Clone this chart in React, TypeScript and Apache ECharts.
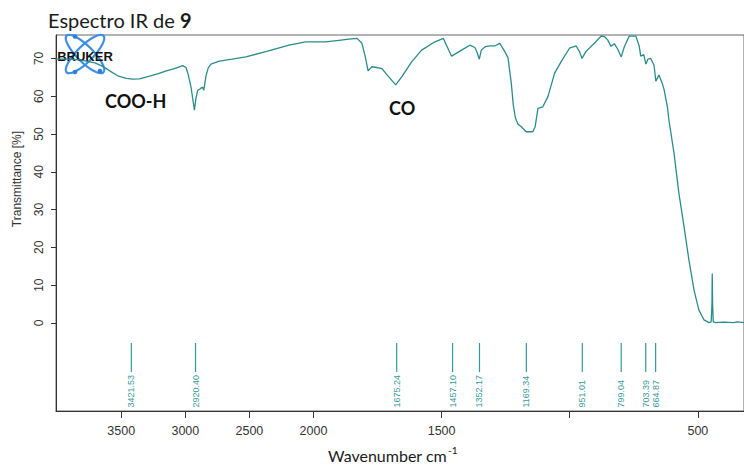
import React, { useEffect, useRef } from "react";
import * as echarts from "echarts";

// Spectrum (wavenumber cm-1, transmittance %)
const wavenumbers = [
  4012, 4000, 3926, 3823, 3706, 3644, 3590, 3528, 3460, 3411, 3357, 3279, 3217, 3149, 3085, 3020,
  2994, 2976, 2955, 2941, 2929, 2917, 2904, 2883, 2865, 2856, 2838, 2821, 2800, 2735, 2634, 2528,
  2372, 2191, 2061, 1953, 1901, 1862, 1830, 1811, 1798, 1787, 1772, 1753, 1733, 1707, 1679, 1655,
  1617, 1578, 1526, 1493, 1481, 1461, 1422, 1390, 1370, 1361, 1353, 1345, 1330, 1312, 1293, 1273,
  1255, 1241, 1228, 1220, 1212, 1202, 1189, 1170, 1144, 1135, 1124, 1105, 1085, 1059, 1034, 1001,
  975, 962, 952, 937, 904, 878, 865, 852, 839, 826, 813, 799, 787, 768, 742, 729, 723, 711, 703,
  695, 684, 671, 664, 652, 639, 632, 619, 613, 593, 574, 554, 535, 515, 496, 476, 457, 448, 445,
  444, 442.5, 440, 431, 400, 360, 347, 320,
];
const transmittance = [
  69.8, 69.8, 69.8, 69.6, 68.8, 67.9, 66.7, 65.4, 64.7, 64.5, 64.6, 65.3, 65.9, 66.7, 67.3, 68.1,
  67.6, 65.5, 62.3, 59.0, 56.3, 59.5, 61.5, 62.0, 62.4, 61.6, 65.5, 67.5, 68.5, 69.3, 69.8, 70.4,
  71.8, 73.5, 74.4, 74.4, 74.8, 75.1, 75.3, 74.0, 70.5, 66.7, 67.8, 67.6, 67.3, 65.2, 63.0, 65.2,
  69.1, 72.2, 74.4, 75.3, 73.5, 70.6, 72.2, 73.5, 72.9, 71.5, 69.8, 72.2, 73.1, 73.3, 73.3, 74.0,
  72.0, 70.2, 63.4, 57.5, 54.3, 52.6, 51.9, 50.6, 50.6, 51.9, 56.8, 57.2, 59.9, 66.1, 69.1, 72.7,
  73.3, 71.8, 70.0, 71.8, 74.0, 75.9, 75.8, 74.9, 73.2, 73.9, 72.5, 70.4, 73.1, 75.9, 75.9, 73.3,
  70.6, 71.0, 68.5, 69.8, 70.0, 68.2, 64.0, 65.6, 63.4, 61.8, 57.2, 53.7, 44.9, 34.3, 25.5, 16.7,
  8.7, 3.4, 0.8, 0.1, 0.3, 5.0, 13.1, 5.0, 0.3, 0.1, 0.2, 0.1, 0.3, 0.1,
];

const peakWavenumbers = [3421.53, 2920.4, 1675.24, 1457.1, 1352.17, 1169.34, 951.01, 799.04, 703.39, 664.87];

const xTickValues = [3500, 3000, 2500, 2000, 1500, 1000, 500];
const xLabelValues = [3500, 3000, 2500, 2000, 1500, 500];
const yTickValues = [0, 10, 20, 30, 40, 50, 60, 70];

// Axis has half scale above 2000 cm-1
const toAxis = (w: number) => (w > 2000 ? 2000 + (w - 2000) / 2 : w);
const fromAxis = (t: number) => (t > 2000 ? 2000 + (t - 2000) * 2 : t);

const TEAL = "#2a8c8c";
const PEAK = "#379a9a";

export default function App() {
  const ref = useRef<HTMLDivElement>(null);
  useEffect(() => {
    if (!ref.current) return;
    const chart = echarts.init(ref.current, null, { renderer: "svg" });
    const lineData = wavenumbers.map((w, i) => [toAxis(w), transmittance[i]]);
    const peakData = peakWavenumbers.map((w) => [toAxis(w), 0, w]);
    chart.setOption({
      animation: false,
      backgroundColor: "#ffffff",
      grid: {
        left: 56,
        right: -3,
        top: 35,
        bottom: 54,
        show: true,
        borderColor: "#666",
        borderWidth: 1,
        containLabel: false,
      },
      xAxis: {
        type: "value",
        inverse: true,
        min: 320,
        max: 3004.7,
        splitLine: { show: false },
        axisLine: { show: true, onZero: false, lineStyle: { color: "#333", width: 1 } },
        axisTick: {
          show: true,
          length: 7,
          customValues: xTickValues.map(toAxis),
          lineStyle: { color: "#333" },
        },
        axisLabel: {
          customValues: xLabelValues.map(toAxis),
          formatter: (t: number) => String(Math.round(fromAxis(t))),
          fontFamily: "Liberation Sans",
          fontSize: 12.5,
          color: "#333",
          margin: 13,
        },
      },
      yAxis: {
        type: "value",
        min: -23.3,
        max: 76.2,
        splitLine: { show: false },
        axisLine: { show: true, onZero: false, lineStyle: { color: "#333", width: 1 } },
        axisTick: { show: true, length: 5, customValues: yTickValues, lineStyle: { color: "#333" } },
        axisLabel: {
          customValues: yTickValues,
          rotate: 90,
          fontFamily: "Liberation Sans",
          fontSize: 12,
          color: "#333",
          margin: 11,
        },
      },
      series: [
        {
          type: "line",
          data: lineData,
          showSymbol: false,
          symbol: "none",
          lineStyle: { color: TEAL, width: 1.3 },
          itemStyle: { color: TEAL },
          z: 3,
        },
        {
          type: "custom",
          data: peakData,
          clip: false,
          renderItem: (params: any, api: any) => {
            const t = api.value(0);
            const w = api.value(2);
            const p1 = api.coord([t, -5.3]);
            const p2 = api.coord([t, -13]);
            const p3 = api.coord([t, -22.4]);
            return {
              type: "group",
              children: [
                {
                  type: "line",
                  shape: { x1: p1[0], y1: p1[1], x2: p2[0], y2: p2[1] },
                  style: { stroke: PEAK, lineWidth: 1.2 },
                },
                {
                  type: "text",
                  x: p3[0],
                  y: p3[1],
                  rotation: Math.PI / 2,
                  style: {
                    text: w.toFixed(2),
                    fill: PEAK,
                    font: "9px 'Liberation Sans'",
                    align: "left",
                    verticalAlign: "middle",
                  },
                },
              ],
            };
          },
        },
      ],
      graphic: [
        {
          type: "text",
          left: 48,
          top: 10,
          style: {
            text: "{n|Espectro IR de }{b|9}",
            rich: {
              n: { fontFamily: "Lato", fontSize: 20, fill: "#1a1a1a" },
              b: { fontFamily: "Lato", fontSize: 20, fontWeight: "bold", fill: "#1a1a1a" },
            },
          },
        },
        {
          type: "text",
          x: 17,
          y: 179,
          rotation: Math.PI / 2,
          style: {
            text: "Transmittance [%]",
            font: "12px 'Liberation Sans'",
            fill: "#333",
            align: "center",
            verticalAlign: "middle",
          },
        },
        {
          type: "text",
          left: 328,
          top: 445,
          style: {
            text: "{n|Wavenumber cm}{s|-1}",
            rich: {
              n: { fontFamily: "Lato", fontSize: 16, fill: "#1a1a1a", lineHeight: 18, verticalAlign: "bottom" },
              s: { fontFamily: "Lato", fontSize: 10, fill: "#1a1a1a", lineHeight: 18, verticalAlign: "top", padding: [0, 0, 0, 1] },
            },
          },
        },
        {
          type: "text",
          left: 105,
          top: 92,
          style: { text: "COO-H", font: "bold 18px Lato", fill: "#111" },
        },
        {
          type: "text",
          left: 389,
          top: 99,
          style: { text: "CO", font: "bold 18px Lato", fill: "#111" },
        },
        {
          type: "group",
          x: 85,
          y: 54,
          z: 10,
          children: [
            {
              type: "ellipse",
              rotation: Math.PI / 4,
              shape: { cx: 0, cy: 0, rx: 26, ry: 8 },
              style: { fill: "none", stroke: "#3b8fe8", lineWidth: 2.2 },
            },
            {
              type: "ellipse",
              rotation: -Math.PI / 4,
              shape: { cx: 0, cy: 0, rx: 26, ry: 8 },
              style: { fill: "none", stroke: "#3b8fe8", lineWidth: 2.2 },
            },
            { type: "circle", shape: { cx: -10, cy: -17.5, r: 2.3 }, style: { fill: "#2f7fd8" } },
            { type: "circle", shape: { cx: -10, cy: 18, r: 2.3 }, style: { fill: "#2f7fd8" } },
            { type: "circle", shape: { cx: 15, cy: 17, r: 2.3 }, style: { fill: "#2f7fd8" } },
            {
              type: "text",
              x: 0,
              y: 2,
              style: {
                text: "BRUKER",
                font: "bold 13px 'Liberation Sans'",
                fill: "#111",
                align: "center",
                verticalAlign: "middle",
              },
            },
          ],
        },
      ],
    });
    return () => chart.dispose();
  }, []);
  return (
    <div
      ref={ref}
      style={{ position: "fixed", left: 0, top: 0, width: 744, height: 465 }}
    />
  );
}
